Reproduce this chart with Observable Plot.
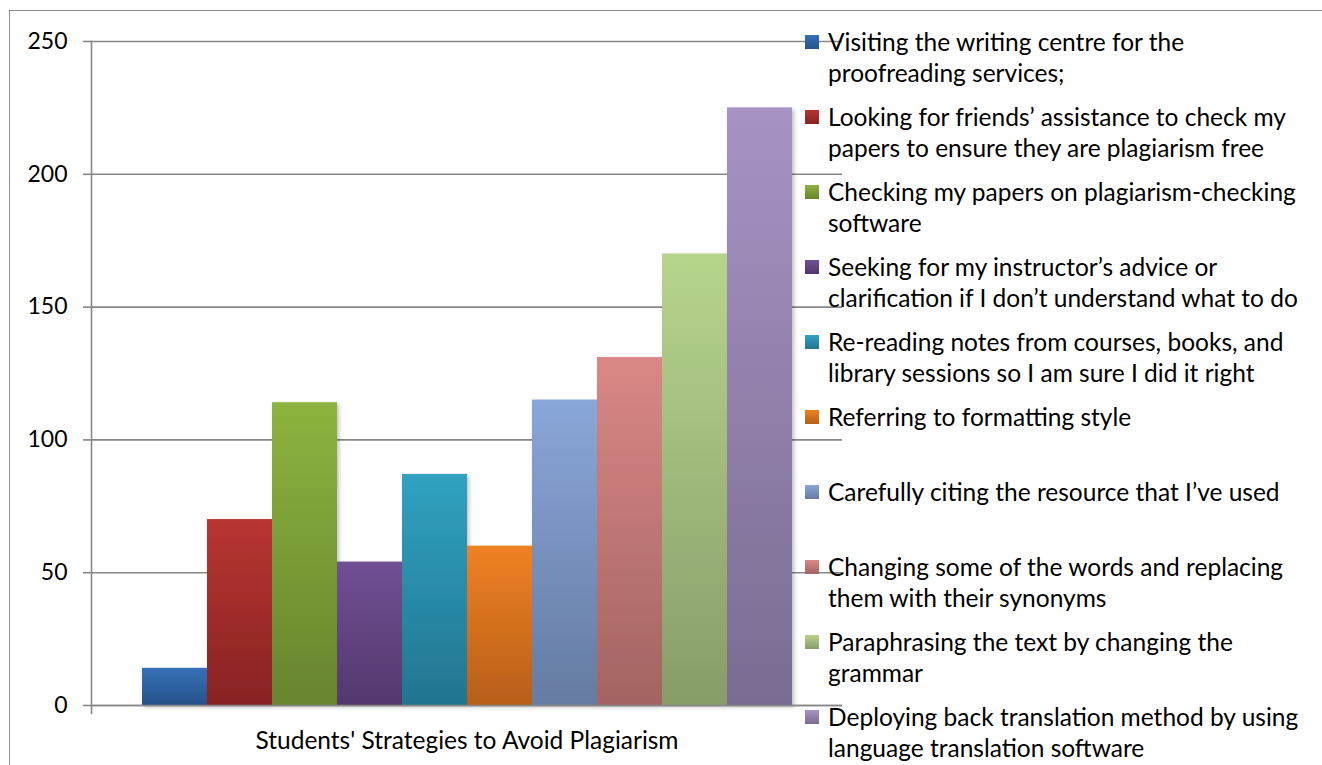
<!DOCTYPE html>
<html>
<head>
<meta charset="utf-8">
<script src="https://cdn.jsdelivr.net/npm/d3@7"></script>
<script src="https://cdn.jsdelivr.net/npm/@observablehq/plot@0.6"></script>
<style>
  html, body { margin: 0; padding: 0; background: #fff; }
  #wrap { position: relative; width: 1322px; height: 765px; overflow: hidden; font-family: Lato, "Open Sans", sans-serif; }
  #border { position: absolute; left: 9px; top: 10px; width: 1400px; height: 900px; border: 1.5px solid #8c8c8c; box-sizing: border-box; pointer-events: none; }
  #chart { position: absolute; left: 0; top: 0; }
  .lg { position: absolute; left: 805px; font-size: 24.5px; line-height: 31px; color: #000; white-space: nowrap; }
  .lg .sw { position: absolute; left: 0; top: 9px; width: 14px; height: 14px; }
  .lg .tx { position: absolute; left: 23px; top: 0; }
</style>
</head>
<body>
<div id="wrap">
  <div id="border"></div>
  <div id="chart"></div>
  <div id="legend"></div>
</div>
<script>
// ---- data ----
const groupLabel = "Students' Strategies to Avoid Plagiarism";
const categories = [
  "Visiting the writing centre for the\nproofreading services;",
  "Looking for friends\u2019 assistance to check my\npapers to ensure they are plagiarism free",
  "Checking my papers on plagiarism-checking\nsoftware",
  "Seeking for my instructor\u2019s advice or\nclarification if I don\u2019t understand what to do",
  "Re-reading notes from courses, books, and\nlibrary sessions so I am sure I did it right",
  "Referring to formatting style",
  "Carefully citing the resource that I\u2019ve used",
  "Changing some of the words and replacing\nthem with their synonyms",
  "Paraphrasing the text by changing the\ngrammar",
  "Deploying back translation method by using\nlanguage translation software"
];
const values = [14, 70, 114, 54, 87, 60, 115, 131, 170, 225];
const topColors = ["#3671b8", "#b83532", "#8db33f", "#704f94", "#30a2c1", "#ef8124", "#89a7d9", "#da8886", "#b7d48d", "#a693c3"];
const bottomColors = ["#27528a", "#872323", "#68842e", "#52386d", "#22758f", "#b75f19", "#657ba2", "#a26462", "#879d68", "#7a6c91"];
const yTicks = [0, 50, 100, 150, 200, 250];

// ---- chart ----
const data = categories.map((c, i) => ({category: c, value: values[i]}));
const gradIds = categories.map((c, i) => `grad${i}`);

const plot = Plot.plot({
  width: 1322,
  height: 765,
  marginLeft: 91,
  marginRight: 480,
  marginTop: 41,
  marginBottom: 60,
  style: {fontFamily: "Lato, 'Open Sans', sans-serif", fontSize: "23px", color: "#000", background: "transparent", overflow: "visible"},
  x: {domain: categories, paddingInner: 0, paddingOuter: 0.75, axis: null},
  y: {domain: [0, 250], axis: null},
  color: {type: "ordinal", domain: categories, range: gradIds.map(id => `url(#${id})`)},
  marks: [
    Plot.gridY(yTicks, {stroke: "#878787", strokeOpacity: 1, strokeWidth: 1.6}),
    Plot.axisY({ticks: yTicks, tickSize: 8, tickPadding: 16, stroke: "#878787", strokeWidth: 1.6, label: null, fill: "#000", fontSize: 23}),
    Plot.frame({anchor: "left", stroke: "#878787", strokeWidth: 1.6, insetBottom: -8}),
    Plot.barY(data, {x: "category", y: "value", fill: "category", className: "bars"}),
    Plot.ruleY([0], {stroke: "#878787", strokeWidth: 1.6}),
    Plot.text([groupLabel], {frameAnchor: "bottom", lineAnchor: "middle", dy: 36, fontSize: 24.5, fill: "#000"})
  ]
});

// gradients
const svg = d3.select(plot);
const defs = svg.insert("defs", ":first-child");
const filt = defs.append("filter").attr("id", "shadow").attr("x", "-10%").attr("y", "-10%").attr("width", "130%").attr("height", "130%");
filt.append("feDropShadow").attr("dx", 2).attr("dy", 2).attr("stdDeviation", 2).attr("flood-color", "#000").attr("flood-opacity", 0.25);
gradIds.forEach((id, i) => {
  const g = defs.append("linearGradient").attr("id", id).attr("x1", 0).attr("y1", 0).attr("x2", 0).attr("y2", 1);
  g.append("stop").attr("offset", "0%").attr("stop-color", topColors[i]);
  g.append("stop").attr("offset", "100%").attr("stop-color", bottomColors[i]);
});
svg.select("g.bars").attr("filter", "url(#shadow)");
document.getElementById("chart").appendChild(plot);

// legend
const legend = d3.select("#legend");
categories.forEach((c, i) => {
  const e = legend.append("div").attr("class", "lg").style("top", `${26 + i * 75}px`);
  e.append("div").attr("class", "sw").style("background", `linear-gradient(${topColors[i]}, ${bottomColors[i]})`);
  e.append("div").attr("class", "tx").html(c.split("\n").join("<br>"));
});
</script>
</body>
</html>
